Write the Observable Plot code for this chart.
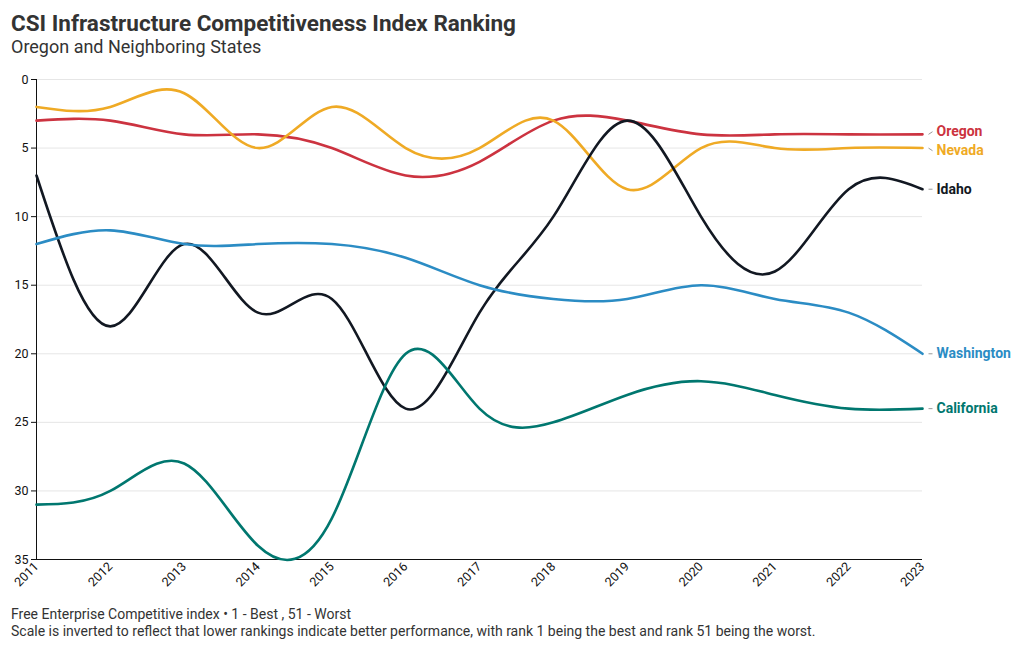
<!DOCTYPE html>
<html>
<head>
<meta charset="utf-8">
<script src="https://cdn.jsdelivr.net/npm/d3@7"></script>
<script src="https://cdn.jsdelivr.net/npm/@observablehq/plot@0.6"></script>
<style>
  html, body { margin: 0; padding: 0; background: #fff; }
  body { width: 1020px; height: 650px; position: relative; font-family: Roboto, "Noto Sans", sans-serif; color: #333; overflow: hidden; }
  #title { position: absolute; left: 11px; top: 10px; font-size: 22.5px; font-weight: 700; line-height: 27px; color: #333; }
  #subtitle { position: absolute; left: 11px; top: 36px; font-size: 18px; line-height: 22px; color: #333; }
  #chart { position: absolute; left: 0; top: 62px; }
  #caption { position: absolute; left: 11px; top: 606px; font-size: 14px; line-height: 17px; color: #333; }
</style>
</head>
<body>
<div id="title">CSI Infrastructure Competitiveness Index Ranking</div>
<div id="subtitle">Oregon and Neighboring States</div>
<div id="chart"></div>
<div id="caption">Free Enterprise Competitive index • 1 - Best , 51 - Worst<br>Scale is inverted to reflect that lower rankings indicate better performance, with rank 1 being the best and rank 51 being the worst.</div>
<script>
const years = [2011, 2012, 2013, 2014, 2015, 2016, 2017, 2018, 2019, 2020, 2021, 2022, 2023];
const states = ["Oregon", "Nevada", "Idaho", "Washington", "California"];
const colors = ["#cc3340", "#efaa25", "#121822", "#2b8cc4", "#00776f"];
const oregon     = [3, 3, 4, 4, 5, 7, 6, 3, 3, 4, 4, 4, 4];
const nevada     = [2, 2, 1, 5, 2, 5, 5, 3, 8, 5, 5, 5, 5];
const idaho      = [7, 18, 12, 17, 16, 24, 17, 10, 3, 10, 14, 8, 8];
const washington = [12, 11, 12, 12, 12, 13, 15, 16, 16, 15, 16, 17, 20];
const california = [31, 30, 28, 34, 32, 20, 24, 25, 23, 22, 23, 24, 24];
const yTicks = [0, 5, 10, 15, 20, 25, 30, 35];

const series = [oregon, nevada, idaho, washington, california];
const data = [];
states.forEach((s, i) => years.forEach((yr, j) => data.push({state: s, year: yr, rank: series[i][j]})));

// end labels with simple vertical dodge (in rank units)
const W = 1020, H = 537, mL = 36, mR = 98, mT = 17, mB = 40;
const pxPerRank = (H - mT - mB) / 35;
const pxPerYear = (W - mL - mR) / (years[years.length - 1] - years[0]);
const minGap = 19 / pxPerRank;
const lastYear = years[years.length - 1];
const labels = states.map((s, i) => ({state: s, rank: series[i][series[i].length - 1]}))
  .sort((a, b) => a.rank - b.rank);
labels.forEach(d => d.ly = d.rank);
for (let k = 0; k < 20; k++) {
  for (let i = 1; i < labels.length; i++) {
    const a = labels[i - 1], b = labels[i];
    const gap = b.ly - a.ly;
    if (gap < minGap) { const sh = (minGap - gap) / 2; a.ly -= sh; b.ly += sh; }
  }
}
labels.forEach(d => { d.x1 = lastYear + 6 / pxPerYear; d.x2 = lastYear + 10 / pxPerYear; });

const chart = Plot.plot({
  width: W, height: H,
  marginLeft: mL, marginRight: mR, marginTop: mT, marginBottom: mB,
  style: {fontFamily: "Roboto, sans-serif", fontSize: "12px", color: "#111", background: "transparent"},
  x: {domain: [years[0], lastYear], label: null},
  y: {domain: [0, 35], reverse: true, label: null},
  color: {domain: states, range: colors},
  marks: [
    Plot.gridY(yTicks, {stroke: "#e6e6e6", strokeOpacity: 1}),
    Plot.axisY(yTicks, {tickSize: 5, tickPadding: 3, stroke: "#111", fill: "#111", fontSize: 12.5}),
    Plot.axisX(years, {tickSize: 0, tickPadding: 5, tickRotate: -45, tickFormat: d => String(d), fill: "#111", fontSize: 12.5}),
    Plot.ruleX([years[0]], {stroke: "#111"}),
    Plot.ruleY([35], {stroke: "#111"}),
    Plot.line(data, {x: "year", y: "rank", z: "state", stroke: "state", curve: "natural", strokeWidth: 2.6}),
    Plot.link(labels, {x1: "x1", x2: "x2", y1: "rank", y2: "ly", stroke: "#999", strokeWidth: 1}),
    Plot.text(labels, {x: lastYear, y: "ly", text: "state", fill: "state", textAnchor: "start", dx: 14, fontWeight: 700, fontSize: 14})
  ]
});
document.getElementById("chart").appendChild(chart);
</script>
</body>
</html>
